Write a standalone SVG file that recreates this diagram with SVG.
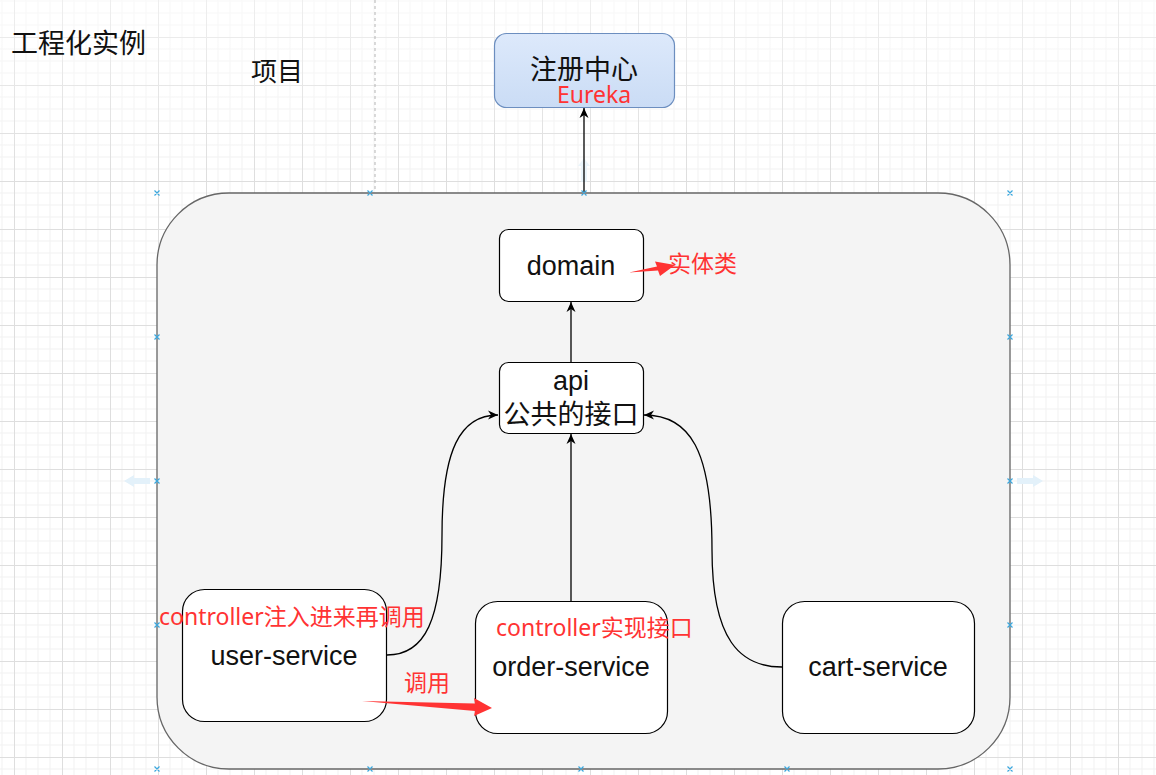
<svg xmlns="http://www.w3.org/2000/svg" width="1156" height="775" viewBox="0 0 1156 775">
<defs>
<pattern id="grid" x="14" y="37" width="48" height="48" patternUnits="userSpaceOnUse">
<path d="M12 0V48M24 0V48M36 0V48M0 12H48M0 24H48M0 36H48" stroke="#f1f1f1" stroke-width="1" fill="none"/>
<path d="M0.5 0V48M0 0.5H48" stroke="#dedede" stroke-width="1" fill="none"/>
</pattern>
<linearGradient id="blueg" x1="0" y1="0" x2="0" y2="1">
<stop offset="0" stop-color="#dde9fb"/>
<stop offset="1" stop-color="#cadcf5"/>
</linearGradient>
<linearGradient id="fade" x1="0" y1="0" x2="0" y2="1">
<stop offset="0" stop-color="#ffffff" stop-opacity="0.5"/>
<stop offset="1" stop-color="#ffffff" stop-opacity="0"/>
</linearGradient>
<marker id="arr" markerWidth="12" markerHeight="10" refX="10" refY="5" orient="auto" markerUnits="userSpaceOnUse">
<path d="M0,0.5 L10,5 L0,9.5 L3,5 z" fill="#000"/>
</marker>
<style>
.node{fill:#fff;stroke:#000;stroke-width:1.2}
.lbl{font-family:"Liberation Sans",Arial,"Noto Sans CJK SC",sans-serif;font-size:27px;fill:#111;text-anchor:middle}
.cjk{font-family:"Noto Sans CJK SC",sans-serif;fill:#111}
.red{font-family:"Noto Sans",Arial,"Noto Sans CJK SC",sans-serif;font-size:23px;fill:#ff3333}
.edge{fill:none;stroke:#000;stroke-width:1.3}
.mk{stroke:#3aa7de;stroke-width:1.2}
.hint{fill:#e3f1fa}
</style>
</defs>
<rect width="1156" height="775" fill="#fff"/>
<rect width="1156" height="775" fill="url(#grid)"/>
<rect width="1156" height="180" fill="url(#fade)"/>
<line x1="375" y1="0" x2="375" y2="190" stroke="#b5b5b5" stroke-dasharray="3,3"/>
<g id="title"><text class="cjk" x="11" y="53" font-size="27">工程化实例</text></g>
<g id="project-label"><text class="cjk" x="251" y="81" font-size="26">项目</text></g>
<g id="project">
<rect x="157" y="193" width="853" height="576" rx="72" fill="#f4f4f4" stroke="#666" stroke-width="1.3"/>
</g>
<g id="hints">
<path class="hint" d="M124 481 L134 475 L134 478 L150 478 L150 484 L134 484 L134 487 z"/>
<path class="hint" d="M1043 481 L1033 475 L1033 478 L1017 478 L1017 484 L1033 484 L1033 487 z"/>
<path class="hint" d="M584 158 L578 166 L581 166 L581 182 L587 182 L587 166 L590 166 z" opacity="0.7"/>
</g>
<g id="eureka">
<rect x="494.5" y="33.5" width="180" height="74" rx="12" fill="url(#blueg)" stroke="#6c8ebf" stroke-width="1.2"/>
<text class="cjk" x="584" y="79" font-size="27" text-anchor="middle">注册中心</text>
<text class="red" x="594" y="103" font-size="22" text-anchor="middle">Eureka</text>
</g>
<g id="domain">
<rect class="node" x="499.5" y="229.5" width="144" height="72" rx="9"/>
<text class="lbl" x="571" y="275">domain</text>
</g>
<g id="api">
<rect class="node" x="499.5" y="362.5" width="144" height="71" rx="9"/>
<text class="lbl" x="571" y="390">api</text>
<text class="cjk" x="571" y="424" font-size="27" text-anchor="middle">公共的接口</text>
</g>
<g id="user-service">
<rect class="node" x="182.5" y="589.5" width="204" height="132" rx="22"/>
<text class="lbl" x="284" y="665">user-service</text>
</g>
<g id="order-service">
<rect class="node" x="475.5" y="601.5" width="192" height="132" rx="22"/>
<text class="lbl" x="571" y="676">order-service</text>
</g>
<g id="cart-service">
<rect class="node" x="782.5" y="601.5" width="192" height="132" rx="22"/>
<text class="lbl" x="878" y="676">cart-service</text>
</g>
<g id="connectors">
<path class="edge" d="M584 193 L584 108" marker-end="url(#arr)"/>
<path class="edge" d="M571 362 L571 302" marker-end="url(#arr)"/>
<path class="edge" d="M571 601 L571 434" marker-end="url(#arr)"/>
<path class="edge" d="M387 655 C 425 655 442 620 442 535 C 442 450 460 415 498 415" marker-end="url(#arr)"/>
<path class="edge" d="M782 667 C 740 667 712 640 712 550 C 712 450 690 415 644 415" marker-end="url(#arr)"/>
</g>
<g id="markers">
<path class="mk" d="M154.5 190.5l5 5m0-5l-5 5M367.5 190.5l5 5m0-5l-5 5M581.5 190.5l5 5m0-5l-5 5M1007.5 190.5l5 5m0-5l-5 5M154.5 334.5l5 5m0-5l-5 5M154.5 478.5l5 5m0-5l-5 5M154.5 622.5l5 5m0-5l-5 5M154.5 766.5l5 5m0-5l-5 5M367.5 766.5l5 5m0-5l-5 5M578.5 766.5l5 5m0-5l-5 5M784.5 766.5l5 5m0-5l-5 5M1007.5 766.5l5 5m0-5l-5 5M1007.5 334.5l5 5m0-5l-5 5M1007.5 478.5l5 5m0-5l-5 5M1007.5 622.5l5 5m0-5l-5 5"/>
</g>
<g id="annotations">
<text class="red" x="668" y="272">实体类</text>
<path d="M629 272.5 L657 266.5 L655 261.5 L675 265 L660 276 L658 270.5 z" fill="#ff3333"/>
<text class="red" x="159" y="625">controller注入进来再调用</text>
<text class="red" x="496" y="636">controller实现接口</text>
<text class="red" x="404" y="691">调用</text>
<path d="M362 701 L475 703.5 L474 698 L492 708 L474 716 L475 711 z" fill="#ff3333"/>
</g>
</svg>
